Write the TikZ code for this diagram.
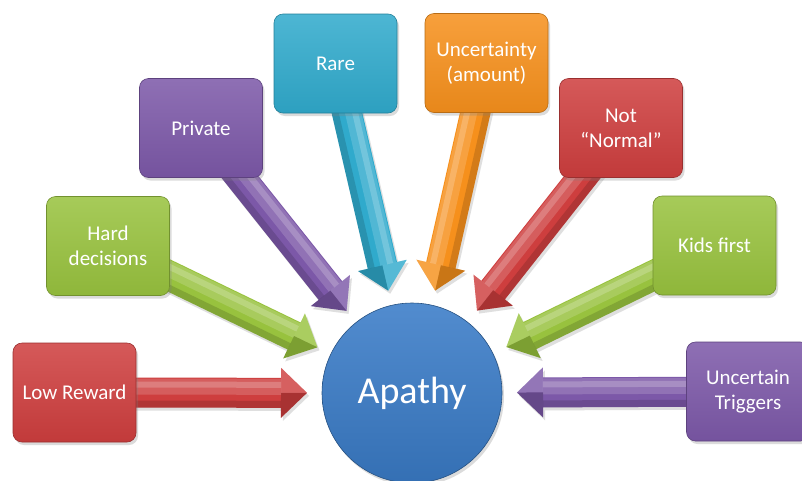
\documentclass[tikz,border=0pt]{standalone}
\usepackage{fontspec}
\setmainfont{Carlito}
\usetikzlibrary{calc,shadows}

\definecolor{cRed}{RGB}{206,62,62}
\definecolor{cGreen}{RGB}{152,194,62}
\definecolor{cPurple}{RGB}{124,88,168}
\definecolor{cTeal}{RGB}{48,170,204}
\definecolor{cOrange}{RGB}{246,144,28}
\definecolor{cBlue}{RGB}{58,124,200}

\pgfdeclarelayer{paper}
\pgfdeclarelayer{arrows}
\pgfsetlayers{paper,arrows,main}

\tikzset{
  card/.style={rounded corners=9pt, minimum width=123pt, minimum height=99pt,
    inner sep=2pt, text=white, align=center,
    font=\fontsize{21}{25}\selectfont,
    top color=#1!86!white, middle color=#1, bottom color=#1!94!black,
    draw=#1!75!black, line width=.6pt,
    drop shadow={opacity=.28, shadow xshift=2pt, shadow yshift=-3pt}},
  hub/.style={circle, minimum size=180pt, inner sep=0pt, text=white,
    font=\fontsize{38}{40}\selectfont,
    top color=cBlue!88!white, middle color=cBlue, bottom color=cBlue!90!black,
    draw=cBlue!65!black, line width=.6pt,
    drop shadow={opacity=.28, shadow xshift=2pt, shadow yshift=-3pt}},
  arrowbody/.style={drop shadow={opacity=.25, shadow xshift=2pt, shadow yshift=-3pt}},
}

% Block arrow from a card towards the hub.
% #1 card name, #2 colour, #3 rotation that points to the lit side (90 or -90)
\newcommand\flowarrow[3]{%
  \coordinate (t-#1) at ($(ap.center)!105pt!(#1.center)$);
  \coordinate (h-#1) at ($(t-#1)!26pt!(#1.center)$);
  \fill[arrowbody, #2]
    ($(#1.center)!15pt!#3:(t-#1)$) -- ($(h-#1)!15pt!#3:(t-#1)$) --
    ($(h-#1)!25pt!#3:(t-#1)$) -- (t-#1) --
    ($(h-#1)!-25pt!#3:(t-#1)$) -- ($(h-#1)!-15pt!#3:(t-#1)$) --
    ($(#1.center)!-15pt!#3:(t-#1)$) -- cycle;
  % soft light bands on the shaft
  \fill[white, opacity=.16]
    ($(#1.center)!-2pt!#3:(t-#1)$) -- ($(h-#1)!-2pt!#3:(t-#1)$) --
    ($(h-#1)!14pt!#3:(t-#1)$) -- ($(#1.center)!14pt!#3:(t-#1)$) -- cycle;
  \fill[white, opacity=.2]
    ($(#1.center)!5pt!#3:(t-#1)$) -- ($(h-#1)!5pt!#3:(t-#1)$) --
    ($(h-#1)!11pt!#3:(t-#1)$) -- ($(#1.center)!11pt!#3:(t-#1)$) -- cycle;
  % shaded edge on the shaft
  \fill[black, opacity=.14]
    ($(#1.center)!-8pt!#3:(t-#1)$) -- ($(h-#1)!-8pt!#3:(t-#1)$) --
    ($(h-#1)!-15pt!#3:(t-#1)$) -- ($(#1.center)!-15pt!#3:(t-#1)$) -- cycle;
  % bevelled head
  \fill[white, opacity=.18]
    ($(h-#1)!25pt!#3:(t-#1)$) -- (t-#1) -- (h-#1) -- cycle;
  \fill[black, opacity=.18]
    ($(h-#1)!-25pt!#3:(t-#1)$) -- (t-#1) -- (h-#1) -- cycle;
}

\begin{document}
\begin{tikzpicture}[x=1pt,y=-1pt]
  \useasboundingbox (0,0) rectangle (802,480);
  \begin{pgfonlayer}{paper}
    \fill[white] (0,0) rectangle (802,480);
  \end{pgfonlayer}

  % cards
  \path
    (74.5,392.5)  node[card=cRed]    (low)  {Low Reward}
    (108,246)     node[card=cGreen]  (hard) {Hard\\decisions}
    (201,128)     node[card=cPurple] (priv) {Private}
    (335.5,63.5)  node[card=cTeal]   (rare) {Rare}
    (486.5,63)    node[card=cOrange] (unc)  {Uncertainty\\(amount)}
    (621,128)     node[card=cRed]    (nn)   {Not\\“Normal”}
    (714.5,245.5) node[card=cGreen]  (kids) {Kids first}
    (748,391.5)   node[card=cPurple] (trig) {Uncertain\\Triggers};

  % hub
  \node[hub] (ap) at (412,393) {Apathy};

  % arrows run beneath the cards
  \begin{pgfonlayer}{arrows}
    \flowarrow{low}{cRed}{90}
    \flowarrow{hard}{cGreen}{90}
    \flowarrow{priv}{cPurple}{90}
    \flowarrow{rare}{cTeal}{90}
    \flowarrow{unc}{cOrange}{-90}
    \flowarrow{nn}{cRed}{-90}
    \flowarrow{kids}{cGreen}{-90}
    \flowarrow{trig}{cPurple}{-90}
  \end{pgfonlayer}
\end{tikzpicture}
\end{document}
